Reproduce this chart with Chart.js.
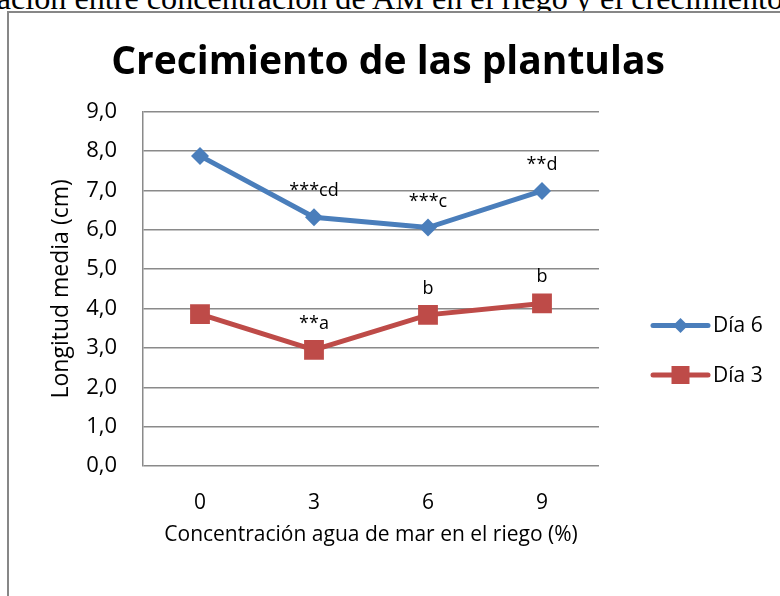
<!DOCTYPE html>
<html>
<head>
<meta charset="utf-8">
<script src="https://cdn.jsdelivr.net/npm/chart.js@4.4.1/dist/chart.umd.min.js"></script>
<style>
  html, body { margin: 0; padding: 0; background: #fff; }
  body { width: 780px; height: 596px; overflow: hidden; position: relative; }
  #caption {
    position: absolute; left: -48px; top: -18px;
    font-family: "Liberation Serif", "Times New Roman", serif;
    font-size: 32.2px; line-height: 32px; white-space: nowrap; color: #000;
  }
  #frame {
    position: absolute; left: 7px; top: 11px; width: 800px; height: 600px;
    border-left: 2px solid #878787; border-top: 2px solid #878787; background: #fff;
  }
  #growthChart { position: absolute; left: 0; top: 0; }
</style>
</head>
<body>
<div id="caption">Relación entre concentración de AM en el riego y el crecimiento</div>
<div id="frame"></div>
<canvas id="growthChart" width="780" height="596"></canvas>
<script>
// values
const categories = ['0', '3', '6', '9'];
const dia6 = [7.88, 6.32, 6.06, 6.99];
const dia3 = [3.86, 2.95, 3.84, 4.13];
const notes6 = ['', '***cd', '***c', '**d'];
const notes3 = ['', '**a', 'b', 'b'];

const FONT = '"Open Sans", "Liberation Sans", sans-serif';
const BLUE = '#4A7EBB';
const RED = '#BE4B48';

// little significance letters above the points
const notesPlugin = {
  id: 'notes',
  afterDatasetsDraw(chart) {
    const ctx = chart.ctx;
    ctx.save();
    ctx.font = '18px ' + FONT;
    ctx.fillStyle = '#000';
    ctx.textAlign = 'center';
    ctx.textBaseline = 'alphabetic';
    [notes6, notes3].forEach((notes, di) => {
      const meta = chart.getDatasetMeta(di);
      meta.data.forEach((pt, i) => {
        if (notes[i]) ctx.fillText(notes[i], pt.x, pt.y - 21);
      });
    });
    ctx.restore();
  }
};

// legend with line + marker, like Excel does it
const sideLegend = {
  id: 'sideLegend',
  afterDraw(chart) {
    const ctx = chart.ctx;
    const x0 = chart.chartArea.right + 54;
    const rows = [325.5, 375];
    chart.data.datasets.forEach((ds, i) => {
      const y = rows[i];
      const cx = x0 + 27.5;
      ctx.save();
      ctx.strokeStyle = ds.borderColor;
      ctx.lineWidth = 5;
      ctx.lineCap = 'round';
      ctx.beginPath();
      ctx.moveTo(x0, y);
      ctx.lineTo(x0 + 55, y);
      ctx.stroke();
      ctx.fillStyle = ds.borderColor;
      ctx.beginPath();
      if (ds.pointStyle === 'rectRot') {
        const r = 7.5;
        ctx.moveTo(cx, y - r);
        ctx.lineTo(cx + r, y);
        ctx.lineTo(cx, y + r);
        ctx.lineTo(cx - r, y);
      } else {
        const h = 9;
        ctx.rect(cx - h, y - h, 2 * h, 2 * h);
      }
      ctx.closePath();
      ctx.fill();
      ctx.fillStyle = '#000';
      ctx.font = '21px ' + FONT;
      ctx.textBaseline = 'middle';
      ctx.textAlign = 'left';
      ctx.fillText(ds.label, x0 + 60, y + 1);
      ctx.restore();
    });
  }
};

new Chart(document.getElementById('growthChart'), {
  type: 'line',
  data: {
    labels: categories,
    datasets: [
      {
        label: 'Día 6',
        data: dia6,
        borderColor: BLUE,
        backgroundColor: BLUE,
        borderWidth: 5,
        pointStyle: 'rectRot',
        pointRadius: 9,
        pointBorderWidth: 0,
        tension: 0
      },
      {
        label: 'Día 3',
        data: dia3,
        borderColor: RED,
        backgroundColor: RED,
        borderWidth: 5,
        pointStyle: 'rect',
        pointRadius: 14,
        pointBorderWidth: 0,
        tension: 0
      }
    ]
  },
  options: {
    responsive: false,
    animation: false,
    layout: { padding: { left: 0, right: 4, top: 39, bottom: 48 } },
    plugins: {
      legend: { display: false },
      tooltip: { enabled: false },
      title: {
        display: true,
        text: 'Crecimiento de las plantulas',
        color: '#000',
        font: { family: FONT, size: 39, weight: 'bold' },
        padding: { top: 0, bottom: 26 }
      }
    },
    scales: {
      x: {
        offset: true,
        grid: { display: false, drawTicks: false },
        border: { display: false },
        ticks: { color: '#000', font: { family: FONT, size: 21 }, padding: 24 },
        title: {
          display: true,
          text: 'Concentración agua de mar en el riego (%)',
          color: '#000',
          font: { family: FONT, size: 21 },
          padding: 0
        },
        afterFit(scale) { scale.height = 82; }
      },
      y: {
        min: 0,
        max: 9,
        ticks: {
          stepSize: 1,
          color: '#000',
          font: { family: FONT, size: 22 },
          padding: 26,
          callback: v => v.toFixed(1).replace('.', ',')
        },
        grid: { color: '#8a8a8a', lineWidth: 1.5, drawTicks: false },
        border: { color: '#8a8a8a', width: 1.5 },
        title: {
          display: true,
          text: 'Longitud media (cm)',
          color: '#000',
          font: { family: FONT, size: 23 },
          padding: { top: 48, bottom: 0 }
        },
        afterFit(scale) { scale.width = 143; }
      },
      // empty axis on the right: keeps room for the legend
      side: {
        position: 'right',
        ticks: { display: false },
        grid: { display: false, drawTicks: false },
        border: { display: false },
        afterFit(scale) { scale.width = 177; }
      }
    }
  },
  plugins: [notesPlugin, sideLegend]
});
</script>
</body>
</html>
